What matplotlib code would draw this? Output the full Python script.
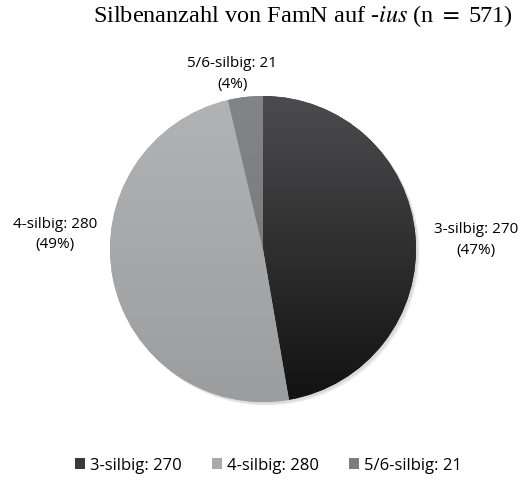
import numpy as np
import matplotlib.pyplot as plt
from matplotlib.colors import to_rgb
from matplotlib.patches import Patch

# data
categories = ['3-silbig', '4-silbig', '5/6-silbig']
counts = [270, 280, 21]
percents = ['47%', '49%', '4%']

# colours: top/bottom of a vertical gradient per wedge
grad_top = ['#4c4c4e', '#b2b3b5', '#838486']
grad_bot = ['#121212', '#9c9d9f', '#737476']
legend_cols = ['#3a3a3b', '#a8a9ab', '#7c7d7f']

plt.rcParams['font.family'] = ['Open Sans', 'DejaVu Sans']
plt.rcParams['mathtext.fontset'] = 'stix'

fig = plt.figure(figsize=(5.29, 4.81), dpi=100)
ax = fig.add_axes([0, 0, 1, 1])

# soft shadow
for k in range(3):
    sh = plt.Circle((0.012 + k * 0.006, -0.012 - k * 0.006), 1.0,
                    color='black', alpha=0.05, lw=0, zorder=1)
    ax.add_patch(sh)

wedges, _ = ax.pie(counts, startangle=90, counterclock=False, radius=1.0,
                   colors=legend_cols, wedgeprops=dict(lw=0, zorder=2))

# gradients clipped to the wedges
yy = np.linspace(0, 1, 256).reshape(-1, 1, 1)
for w, ct, cb in zip(wedges, grad_top, grad_bot):
    c1 = np.array(to_rgb(ct))
    c2 = np.array(to_rgb(cb))
    img = c1[None, None, :] * (1 - yy) + c2[None, None, :] * yy
    img = np.repeat(img, 2, axis=1)
    im = ax.imshow(img, extent=(-1, 1, -1, 1), aspect='auto', zorder=3,
                   interpolation='bilinear')
    im.set_clip_path(w)

# pie centre at (263, 250) px, radius 153 px
r_px = 153.0
cx, cy = 263.0, 250.0
ax.set_aspect('auto')
ax.set_xlim(-cx / r_px, (529 - cx) / r_px)
ax.set_ylim((cy - 481) / r_px, cy / r_px)
ax.axis('off')

# data labels
label_pos = [(1.39, 0.065), (-1.36, 0.1), (-0.2, 1.15)]
for (x, y), c, n, p in zip(label_pos, categories, counts, percents):
    ax.text(x, y, f'{c}: {n}\n({p})', ha='center', va='center',
            fontsize=11, linespacing=1.5, color='#000000')

fig.text(0.572, 0.967, r'Silbenanzahl von FamN auf -$ius$ (n $=$ 571)',
         ha='center', va='center', fontsize=17.5, family='Liberation Serif')

handles = [Patch(facecolor=c, edgecolor='none') for c in legend_cols]
labels = [f'{c}: {n}' for c, n in zip(categories, counts)]
fig.legend(handles, labels, loc='center', bbox_to_anchor=(0.507, 0.031),
           ncol=3, frameon=False, fontsize=12, handlelength=0.6,
           handleheight=0.6, handletextpad=0.3, columnspacing=1.8)

fig.savefig('out.png', dpi=100)
